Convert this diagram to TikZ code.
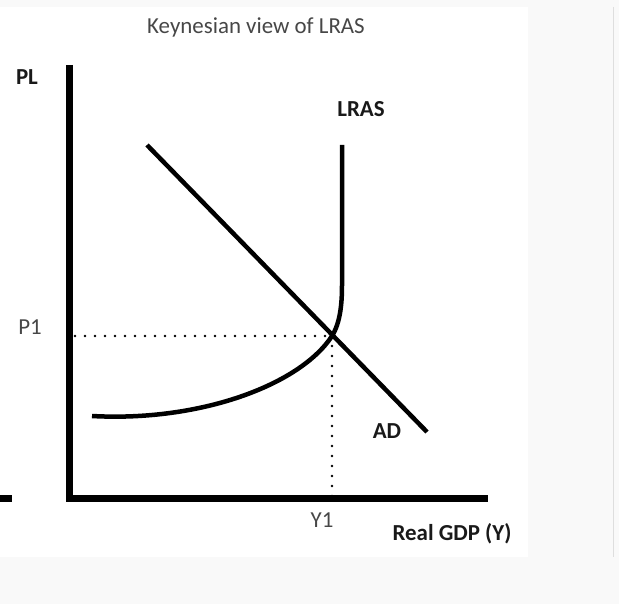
\documentclass[tikz,border=0pt]{standalone}
\usepackage{fontspec}
\setmainfont{Carlito}
\begin{document}
\begin{tikzpicture}[x=1bp,y=-1bp,
  axis/.style={line width=7bp},
  curve/.style={line width=4.5bp},
  guide/.style={line width=2.8bp,line cap=round,dash pattern=on 0bp off 10bp},
  bold label/.style={font=\fontsize{23}{26}\selectfont\bfseries,text=black!90},
  thin label/.style={font=\fontsize{23}{26}\selectfont,text=black!72}]

  % page and white panel
  \useasboundingbox (0,0) rectangle (619,604);
  \fill[black!2.5] (0,0) rectangle (619,604);
  \fill[white] (0,7) rectangle (528,557);
  \draw[black!13] (613,7) -- (613,557);

  \node[thin label] (title) at (256,27) {Keynesian view of LRAS};

  \coordinate (top) at (69,65);
  \coordinate (o) at (69,498);
  \coordinate (right) at (488,498);
  \coordinate (e) at (332,336);
  \coordinate (p) at (75,336);
  \coordinate (y) at (332,498);

  \node[bold label] (pl) at (27,77) {PL};
  \node[bold label] (lras) at (361,109) {LRAS};
  \node[bold label] (ad) at (387,431) {AD};
  \node[thin label] (p1) at (30,327) {P1};
  \node[thin label] (y1) at (322,520) {Y1};
  \node[bold label] (gdp) at (452,534) {Real GDP (Y)};

  % axes
  \draw[axis] (top) -- (o) -- (right);
  \draw[axis] (0,498) -- (12,498);

  % guides
  \draw[guide] (p) -- (e);
  \draw[guide] (e) -- (y);

  % curves
  \draw[curve] (147,145) -- (427,432);
  \draw[curve] (92,416) .. controls (200,422) and (300,385) .. (e)
    .. controls (340,323) and (342,305) .. (342,285) -- (342,145);
\end{tikzpicture}
\end{document}
